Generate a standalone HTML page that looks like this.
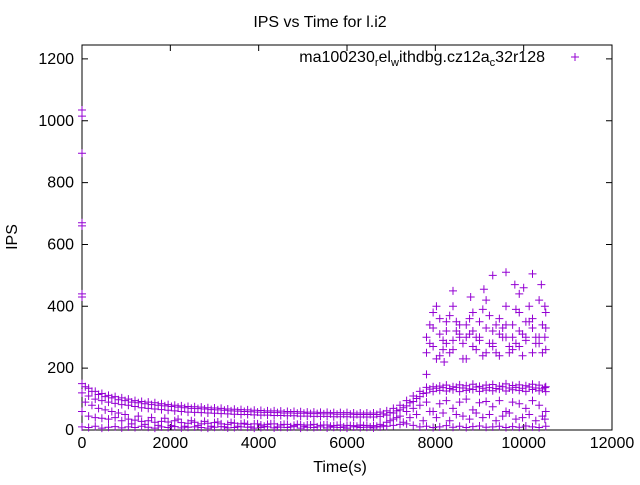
<!DOCTYPE html>
<html><head><meta charset="utf-8"><style>
body{margin:0;background:#fff}
svg text{font-family:"Liberation Sans",sans-serif;font-size:16px;fill:#000}
</style></head><body>
<svg id="chart" width="640" height="480">
<rect width="640" height="480" fill="#fff"/>
<text x="320" y="27" text-anchor="middle">IPS vs Time for l.i2</text>
<text x="340" y="472" text-anchor="middle">Time(s)</text>
<text transform="translate(17,237) rotate(-90)" text-anchor="middle">IPS</text>
<g id="axes"></g>
<g id="marks"></g>
<g>
<text x="545" y="62" text-anchor="end" font-size="16">ma100230<tspan font-size="11" dy="4">r</tspan><tspan dy="-4">el</tspan><tspan font-size="11" dy="4">w</tspan><tspan dy="-4">ithdbg.cz12a</tspan><tspan font-size="11" dy="4">c</tspan><tspan dy="-4">32r128</tspan></text>
<path d="M571,57h8M575,53v8" stroke="#9400d3" stroke-width="1"/>
</g>
</svg>
<script>
const times=[0,150,300,450,600,750,900,1050,1200,1350,1500,1650,1800,1950,2100,2250,2400,2550,2700,2850,3000,3150,3300,3450,3600,3750,3900,4050,4200,4350,4500,4650,4800,4950,5100,5250,5400,5550,5700,5850,6000,6150,6300,6450,6600,6750,6900,7050,7200,7350,7500,7650,7800,7950,8100,8250,8400,8550,8700,8850,9000,9150,9300,9450,9600,9750,9900,10050,10200,10350,10500];
const times2=[75,225,375,525,675,825,975,1125,1275,1425,1575,1725,1875,2025,2175,2325,2475,2625,2775,2925,3075,3225,3375,3525,3675,3825,3975,4125,4275,4425,4575,4725,4875,5025,5175,5325,5475,5625,5775,5925,6075,6225,6375,6525,6675,6825,6975,7125,7275,7425,7575,7725,7875,8025,8175,8325,8475,8625,8775,8925,9075,9225,9375,9525,9675,9825,9975,10125,10275,10425,10480];
const mainBand=[150,135,125,118,112,108,104,100,95,92,90,88,85,82,80,78,76,75,74,72,71,70,68,67,66,65,64,63,62,62,61,60,60,59,58,58,57,57,56,56,56,55,55,55,55,58,62,70,80,95,110,125,138,140,142,145,140,146,143,148,141,145,147,142,149,144,146,143,148,145,140];
const mainBand2=[120,110,100,95,90,86,82,80,76,72,70,68,66,64,62,60,58,57,56,55,54,53,52,51,50,50,49,48,48,47,47,46,46,45,45,44,44,44,43,43,43,42,42,42,42,44,48,55,65,78,92,108,120,125,128,126,130,124,128,131,125,129,127,132,126,130,128,125,131,127,124];
const mainBand3=[140,125,115,108,104,98,95,90,88,85,82,80,78,76,74,72,70,69,68,66,65,64,62,61,60,59,58,57,57,56,55,55,54,54,53,53,52,52,51,51,51,50,50,50,50,52,56,62,72,88,102,118,132,135,137,134,138,136,133,139,135,137,134,140,136,138,135,139,136,133,137];
const lowBand=[10,8,12,6,9,11,7,10,8,12,9,6,10,8,11,7,9,10,8,6,9,11,7,8,10,9,6,8,10,7,9,8,11,6,9,8,10,7,9,8,6,10,8,9,7,10,12,15,18,20,15,10,12,8,10,14,9,12,8,11,13,9,10,12,8,11,9,13,10,8,12];
const lowBand2=[60,45,40,38,35,40,30,35,32,28,30,25,28,26,30,24,22,25,20,22,24,20,18,22,20,18,20,16,18,20,16,18,15,17,16,18,15,16,14,16,15,14,16,15,14,18,25,35,45,60,70,80,90,60,85,95,70,90,100,65,88,92,75,95,60,90,85,70,95,80,60];
const lowBand3=[90,80,70,65,60,55,50,20,45,18,40,15,38,14,35,12,30,14,28,12,26,10,24,12,22,10,20,12,20,10,18,10,18,12,16,10,16,12,15,10,14,12,14,10,12,14,30,40,25,40,50,30,60,40,55,30,50,45,35,55,40,50,30,45,55,35,40,50,30,45,35];
const upperA=[null,null,null,null,null,null,null,null,null,null,null,null,null,null,null,null,null,null,null,null,null,null,null,null,null,null,null,null,null,null,null,null,null,null,null,null,null,null,null,null,null,null,null,null,null,null,null,null,null,null,null,null,300,380,360,320,400,340,300,380,350,420,320,360,400,340,380,300,360,420,330];
const upperB=[null,null,null,null,null,null,null,null,null,null,null,null,null,null,null,null,null,null,null,null,null,null,null,null,null,null,null,null,null,null,null,null,null,null,null,null,null,null,null,null,null,null,null,null,null,null,null,null,null,null,null,null,250,270,240,280,260,300,230,270,290,250,280,240,300,260,270,290,250,280,260];
const upperC=[null,null,null,null,null,null,null,null,null,null,null,null,null,null,null,null,null,null,null,null,null,null,null,null,null,null,null,null,null,null,null,null,null,null,null,null,null,null,null,null,null,null,null,null,null,null,null,null,null,null,null,null,180,330,310,350,290,310,340,320,300,330,270,310,340,300,320,350,330,300,380];
const upperD=[null,null,null,null,null,null,null,null,null,null,null,null,null,null,null,null,null,null,null,null,null,null,null,null,null,null,null,null,null,null,null,null,null,null,null,null,null,null,null,null,null,null,null,null,null,null,null,null,null,null,null,null,280,400,260,370,320,280,360,300,390,280,340,300,270,390,310,350,280,340,400];
const upperE=[null,null,null,null,null,null,null,null,null,null,null,null,null,null,null,null,null,null,null,null,null,null,null,null,null,null,null,null,null,null,null,null,null,null,null,null,null,null,null,null,null,null,null,null,null,null,null,null,null,null,null,null,340,230,290,250,350,230,310,260,240,370,250,330,250,280,240,400,300,250,300];
const outlierX=[0,0,0,0,0,0,0,9300,9600,10200,8400,9800,10000,9900,8800,9100,8200,10400];
const outlierY=[1035,1015,895,670,660,440,430,500,510,505,450,470,460,440,430,455,220,470];
const xTicks=[0,2000,4000,6000,8000,10000,12000];
const yTicks=[0,200,400,600,800,1000,1200];
const L=82,R=612,T=45,B=430,XMAX=12000,YMAX=1245;
const sx=v=>L+(v/XMAX)*(R-L), sy=v=>B-(v/YMAX)*(B-T);
const NS='http://www.w3.org/2000/svg';
const axes=document.getElementById('axes'), marks=document.getElementById('marks');
function mk(tag,attrs,parent){const e=document.createElementNS(NS,tag);for(const k in attrs)e.setAttribute(k,attrs[k]);parent.appendChild(e);return e;}
const frame=mk('rect',{x:L,y:T,width:R-L,height:B-T,fill:'none',stroke:'#000'},axes);


xTicks.forEach(t=>{const x=sx(t);
 mk('path',{d:`M${x},${B}v-6M${x},${T}v6`,stroke:'#000'},axes);
 const tx=mk('text',{x:x,y:B+18,'text-anchor':'middle'},axes);tx.textContent=t;
 
 });
yTicks.forEach(t=>{const y=sy(t);
 mk('path',{d:`M${L},${y}h6M${R},${y}h-6`,stroke:'#000'},axes);
 const tx=mk('text',{x:L-8,y:y+5,'text-anchor':'end'},axes);tx.textContent=t;
 
 });
let d='';
function plus(x,y){if(y==null)return;const px=sx(x),py=sy(y);d+=`M${px-4},${py}h8M${px},${py-4}v8`;}
[mainBand,mainBand2,lowBand,lowBand2,upperA,upperB,upperC].forEach(s=>times.forEach((t,i)=>plus(t,s[i])));
[mainBand3,lowBand3,upperD,upperE].forEach(s=>times2.forEach((t,i)=>plus(t,s[i])));
outlierX.forEach((x,i)=>plus(x,outlierY[i]));
const p=mk('path',{d:d,stroke:'#9400d3','stroke-width':1,fill:'none'},marks);


</script>
</body></html>
